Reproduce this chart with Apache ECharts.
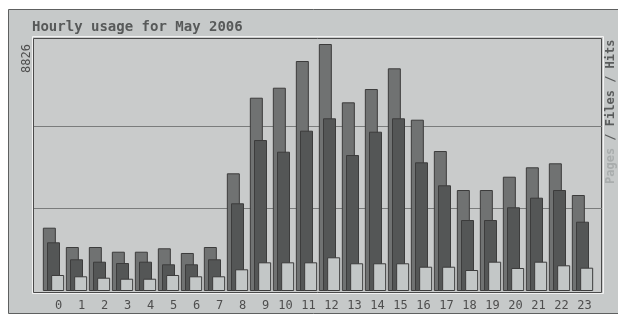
<!DOCTYPE html>
<html>
<head>
<meta charset="utf-8">
<title>Hourly usage for May 2006</title>
<script src="https://cdn.jsdelivr.net/npm/echarts/dist/echarts.min.js"></script>
<style>
  html, body { margin: 0; padding: 0; background: #ffffff; }
  #chart { width: 618px; height: 315px; }
</style>
</head>
<body>
<div id="chart"></div>
<script>
// hourly stats
const hours = ['0', '1', '2', '3', '4', '5', '6', '7', '8', '9', '10', '11',
  '12', '13', '14', '15', '16', '17', '18', '19', '20', '21', '22', '23']
const hits = [2262, 1572, 1572, 1404, 1404, 1526, 1358, 1572, 4205, 6907, 7264, 8218,
  8826, 6742, 7217, 7957, 6121, 5002, 3609, 3609, 4084, 4420, 4563, 3430]
const files = [1740, 1133, 1047, 1000, 1047, 954, 954, 1133, 3134, 5395, 4977, 5728,
  6171, 4859, 5692, 6171, 4598, 3777, 2537, 2537, 2991, 3334, 3609, 2476]
const pages = [572, 525, 475, 439, 439, 572, 525, 525, 775, 1025, 1025, 1025,
  1204, 990, 990, 990, 868, 868, 750, 1047, 822, 1047, 918, 833]
const yTicks = [0, 2942, 5884, 8826]
const title = 'Hourly usage for May 2006'
const sideLabel = ['Pages', ' / Files / Hits']

const yMax = yTicks[yTicks.length - 1]
const yStep = yTicks[1] - yTicks[0]
const mono = '"DejaVu Sans Mono", "Liberation Mono", monospace'

let chart = echarts.init(document.getElementById('chart'), null, { renderer: 'canvas' })

let barStyle = function (color) {
  return { color: color, borderColor: '#3c3c3c', borderWidth: 1 }
}

let option = {
  backgroundColor: '#ffffff',
  animation: false,
  grid: [
    // frame + gridlines
    { left: 34, right: 16, top: 44, bottom: 24 },
    // bars
    { left: 42, right: 24, top: 44, bottom: 24 }
  ],
  xAxis: [
    { gridIndex: 0, type: 'value', show: false, min: 0, max: 1 },
    {
      gridIndex: 1,
      type: 'category',
      data: hours,
      axisLine: { show: false },
      axisTick: { show: false },
      axisLabel: {
        interval: 0,
        hideOverlap: false,
        margin: 9,
        fontFamily: mono,
        fontSize: 12,
        color: '#4e4e4e',
        formatter: function (v) {
          return v.length === 1 ? '{a|' + v + '}' : '{b|' + v + '}'
        },
        rich: {
          a: { padding: [0, 0, 0, 10], fontFamily: mono, fontSize: 12, color: '#4e4e4e' },
          b: { padding: [0, 0, 0, 4], fontFamily: mono, fontSize: 12, color: '#4e4e4e' }
        }
      }
    }
  ],
  yAxis: [
    {
      gridIndex: 0,
      type: 'value',
      min: 0,
      max: yMax,
      interval: yStep,
      axisLine: { show: false },
      axisTick: { show: false },
      splitLine: {
        show: true,
        showMinLine: false,
        showMaxLine: false,
        lineStyle: { color: '#7a7c7c', width: 1 }
      },
      axisLabel: {
        rotate: 90,
        align: 'right',
        verticalAlign: 'bottom',
        margin: 1,
        fontFamily: mono,
        fontSize: 12,
        color: '#4e4e4e',
        formatter: function (v) {
          return v === yMax ? String(v) : ''
        }
      }
    },
    { gridIndex: 1, type: 'value', min: 0, max: yMax, show: false }
  ],
  graphic: [
    {
      type: 'rect',
      z: -10,
      silent: true,
      shape: { x: 8.5, y: 9.5, width: 640, height: 304 },
      style: { fill: '#c6c9c9', stroke: '#5e6060', lineWidth: 1 }
    },
    {
      type: 'rect',
      z: -9,
      silent: true,
      shape: { x: 32.5, y: 36.5, width: 571, height: 257 },
      style: { fill: '#c9cbcb', stroke: '#f2f2f2', lineWidth: 1 }
    },
    {
      type: 'rect',
      z: -8,
      silent: true,
      shape: { x: 33.5, y: 38.5, width: 568, height: 254 },
      style: { fill: null, stroke: '#4a4a4a', lineWidth: 1 }
    },
    {
      type: 'text',
      silent: true,
      x: 32,
      y: 27,
      style: {
        text: title,
        font: 'bold 14px ' + mono,
        fill: '#575959',
        verticalAlign: 'middle'
      }
    },
    {
      type: 'text',
      silent: true,
      x: 611,
      y: 184,
      rotation: Math.PI / 2,
      style: {
        text: '{p|' + sideLabel[0] + '}{h|' + sideLabel[1] + '}',
        verticalAlign: 'middle',
        align: 'left',
        rich: {
          p: { font: 'bold 12px ' + mono, fill: '#a9adad' },
          h: { font: 'bold 12px ' + mono, fill: '#5a5c5c' }
        }
      }
    }
  ],
  series: [
    {
      name: 'Hits',
      type: 'bar',
      xAxisIndex: 1,
      yAxisIndex: 1,
      data: hits,
      barWidth: 13,
      barGap: '-68%',
      itemStyle: barStyle('#707272')
    },
    {
      name: 'Files',
      type: 'bar',
      xAxisIndex: 1,
      yAxisIndex: 1,
      data: files,
      barWidth: 13,
      barGap: '-68%',
      itemStyle: barStyle('#545656')
    },
    {
      name: 'Pages',
      type: 'bar',
      xAxisIndex: 1,
      yAxisIndex: 1,
      data: pages,
      barWidth: 13,
      barGap: '-68%',
      itemStyle: barStyle('#c3c7c7')
    }
  ]
}

chart.setOption(option)

window.addEventListener('resize', function () {
  chart.resize()
}, false)
</script>
</body>
</html>
